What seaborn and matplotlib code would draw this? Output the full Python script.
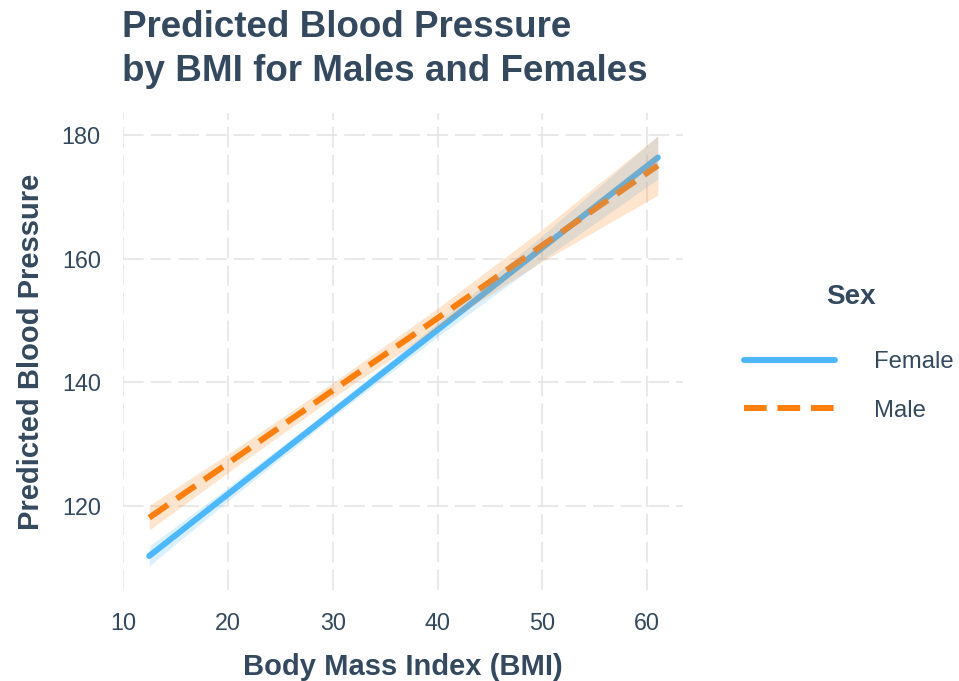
import pandas as pd
import matplotlib.pyplot as plt
import seaborn as sns

# ---- data ----
bmi = [12.5, 20, 30, 40, 50, 61]
female_fit = [111.9, 121.9, 135.2, 148.5, 161.8, 176.4]
female_lo = [110.3, 120.8, 134.4, 147.4, 159.8, 172.9]
female_hi = [113.5, 123.0, 136.0, 149.6, 163.8, 179.9]
male_fit = [118.1, 126.9, 138.7, 150.4, 162.2, 175.1]
male_lo = [116.1, 125.4, 137.5, 148.8, 159.6, 170.3]
male_hi = [120.1, 128.4, 139.9, 152.0, 164.8, 179.9]
x_ticks = [10, 20, 30, 40, 50, 60]
y_ticks = [120, 140, 160, 180]

sns.set_theme(style="white")
plt.rcParams['font.family'] = ['Liberation Sans', 'DejaVu Sans']

TXT = "#34495E"
TICK = "#34495E"
colors = {"Female": "#4DB8FF", "Male": "#FF7F0E"}

df = pd.DataFrame({
    "BMI": bmi + bmi,
    "fit": female_fit + male_fit,
    "lo": female_lo + male_lo,
    "hi": female_hi + male_hi,
    "Sex": ["Female"] * len(bmi) + ["Male"] * len(bmi),
})

fig = plt.figure(figsize=(9.59, 6.81), dpi=100)
ax = fig.add_axes([123 / 959, 1 - 590 / 681, (683 - 123) / 959, (590 - 113) / 681])

sns.lineplot(data=df, x="BMI", y="fit", hue="Sex", style="Sex",
             palette=colors, dashes={"Female": "", "Male": (3.8, 1.8)},
             linewidth=4.3, errorbar=None, ax=ax, zorder=2)

for sex, sub in df.groupby("Sex"):
    ax.fill_between(sub["BMI"], sub["lo"], sub["hi"], color=colors[sex],
                    alpha=0.2, linewidth=0, zorder=3)

ax.set_xlim(10.075, 63.4)
ax.set_ylim(106.4, 183.6)
ax.set_xticks(x_ticks)
ax.set_yticks(y_ticks)
ax.grid(True, color="#E3E3E3", linestyle=(0, (13.5, 4.6)), linewidth=1.1, zorder=0)
ax.set_axisbelow(True)
for s in ax.spines.values():
    s.set_visible(False)
ax.tick_params(axis="both", length=0, labelsize=16.8, labelcolor=TICK, pad=16)

ax.set_xlabel("Body Mass Index (BMI)", fontsize=21, fontweight="bold", color=TXT, labelpad=13)
ax.set_ylabel("Predicted Blood Pressure", fontsize=21, fontweight="bold", color=TXT, labelpad=12)

fig.text(122 / 959, 1 - 10 / 681, "Predicted Blood Pressure\nby BMI for Males and Females",
         ha="left", va="top", fontsize=26.5, fontweight="bold", color=TXT, linespacing=1.35)

handles, labels = ax.get_legend_handles_labels()
ax.get_legend().remove()
leg = ax.legend(handles, labels, loc="upper left",
                bbox_to_anchor=(744 / 959, 1 - 351 / 681), bbox_transform=fig.transFigure,
                frameon=False, fontsize=17.2, borderpad=0, borderaxespad=0,
                handlelength=3.8, handletextpad=1.65, labelspacing=1.12)
for t in leg.get_texts():
    t.set_color(TICK)
for h in leg.get_lines():
    h.set_linewidth(4.3)
fig.text(851 / 959, 1 - 297 / 681, "Sex", ha="center", va="center",
         fontsize=20, fontweight="bold", color=TXT)

fig.savefig("out.png", dpi=100)
